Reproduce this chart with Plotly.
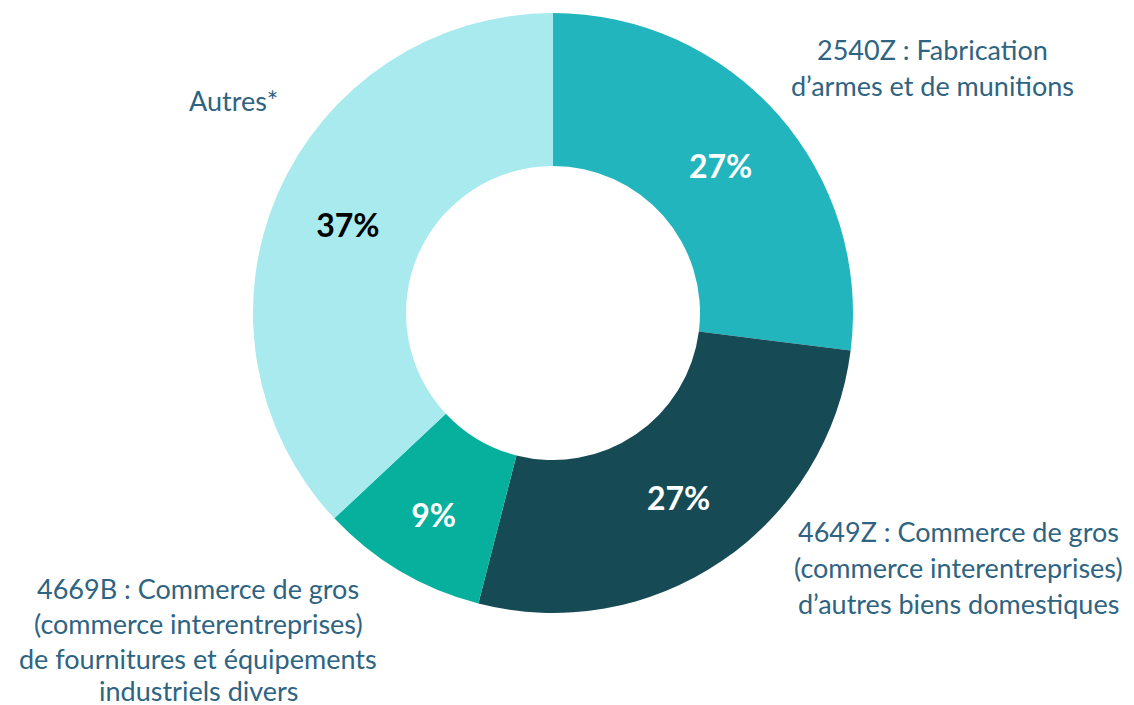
import plotly.graph_objects as go

# shares of the four categories, clockwise from 12 o'clock
codes = ["2540Z", "4649Z", "4669B", "Autres"]
shares = [27, 27, 9, 37]
slice_colors = ["#23B5BE", "#164B55", "#06B09C", "#A8EAED"]
pct_colors = ["white", "white", "white", "black"]

label_lines = {
    "2540Z": ["2540Z : Fabrication", "d’armes et de munitions"],
    "4649Z": ["4649Z : Commerce de gros", "(commerce interentreprises)",
              "d’autres biens domestiques"],
    "4669B": ["4669B : Commerce de gros", "(commerce interentreprises)",
              "de fournitures et équipements", "industriels divers"],
    "Autres": ["Autres*"],
}

W, H = 1134, 705
off = 8  # page body margin pushes the figure 8px right/down
text_col = "#2E6482"
font = "Lato"

cx0, cy0, R = 553 - off, 313 - off, 300

fig = go.Figure(go.Pie(
    labels=codes,
    values=shares,
    sort=False,
    direction="clockwise",
    rotation=0,
    hole=0.49,
    marker=dict(colors=slice_colors, line=dict(width=0)),
    texttemplate="%{value}%",
    textposition="inside",
    insidetextorientation="horizontal",
    textfont=dict(family=font, size=32, color=pct_colors, weight="bold"),
    domain=dict(x=[(cx0 - R) / W, (cx0 + R) / W],
                y=[1 - (cy0 + R) / H, 1 - (cy0 - R) / H]),
    showlegend=False,
    hoverinfo="label+percent",
))

# outside labels: centre x and y of each line, in reference pixels
label_pos = {
    "2540Z": (932, [50, 86]),
    "Autres": (233, [101]),
    "4649Z": (958, [531, 567, 603]),
    "4669B": (198, [588, 623, 658, 690]),
}

annotations = []
for code, lines in label_lines.items():
    lx, ys = label_pos[code]
    for line, ly in zip(lines, ys):
        annotations.append(dict(
            x=(lx - off) / W, y=1 - (ly - off) / H,
            xref="paper", yref="paper",
            text=line, showarrow=False,
            xanchor="center", yanchor="middle",
            font=dict(family=font, size=27, color=text_col),
        ))

fig.update_layout(
    width=W, height=H,
    margin=dict(l=0, r=0, t=0, b=0),
    paper_bgcolor="white",
    plot_bgcolor="white",
    annotations=annotations,
)

fig.write_html("out.html")
